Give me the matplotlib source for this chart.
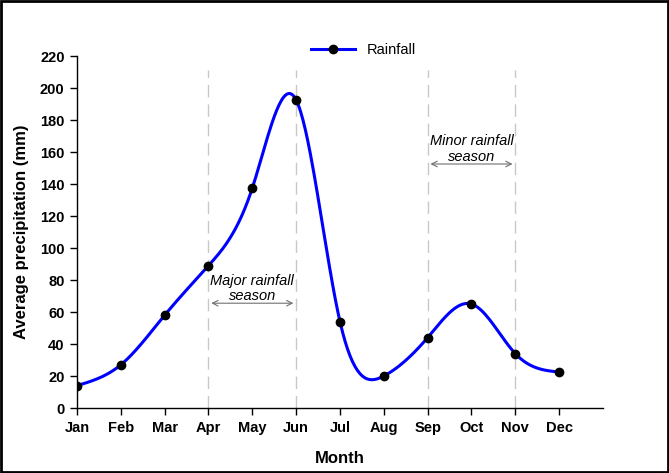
import numpy as np
import matplotlib
matplotlib.use("Agg")
import matplotlib.pyplot as plt
from matplotlib.patches import Rectangle

plt.rcParams['font.family'] = ['Liberation Sans', 'DejaVu Sans']

months = ["Jan", "Feb", "Mar", "Apr", "May", "Jun", "Jul", "Aug", "Sep", "Oct", "Nov", "Dec"]
rainfall = [14, 27, 58, 89, 137.5, 192.5, 54, 20, 44, 65, 34, 22.5]
season_lines = ["Apr", "Jun", "Sep", "Nov"]
yticks = list(range(0, 221, 20))


def natural_spline(x, y, xs):
    x = np.asarray(x, float); y = np.asarray(y, float)
    n = len(x)
    h = np.diff(x)
    A = np.zeros((n, n)); b = np.zeros(n)
    A[0, 0] = 1; A[-1, -1] = 1
    for i in range(1, n - 1):
        A[i, i - 1] = h[i - 1]
        A[i, i] = 2 * (h[i - 1] + h[i])
        A[i, i + 1] = h[i]
        b[i] = 6 * ((y[i + 1] - y[i]) / h[i] - (y[i] - y[i - 1]) / h[i - 1])
    M = np.linalg.solve(A, b)
    out = np.empty_like(xs)
    for k, t in enumerate(xs):
        i = min(max(np.searchsorted(x, t) - 1, 0), n - 2)
        a = x[i + 1] - t; c = t - x[i]
        out[k] = (M[i] * a**3 + M[i + 1] * c**3) / (6 * h[i]) + \
                 (y[i] / h[i] - M[i] * h[i] / 6) * a + (y[i + 1] / h[i] - M[i + 1] * h[i] / 6) * c
    return out


x = np.arange(len(months))
xs = np.linspace(0, len(months) - 1, 400)
ys = natural_spline(x, rainfall, xs)

fig = plt.figure(figsize=(6.69, 4.73), dpi=100)
ax = fig.add_axes([0.1151, 0.1374, 0.7862, 0.7442])

for m in season_lines:
    xi = months.index(m)
    ax.plot([xi, xi], [0, 211], color='#c8c8c8', lw=1.0, ls=(0, (9, 5)), zorder=1)

ax.plot(xs, ys, color='#0000ff', lw=2.2, zorder=3)
ax.plot(x, rainfall, 'o', color='black', ms=6, zorder=4)
ax.plot([], [], color='#0000ff', lw=2.2, marker='o', mfc='black', mec='black', ms=6, label='Rainfall')

ax.annotate('', xy=(months.index("Apr"), 65.5), xytext=(months.index("Jun"), 65.5),
            arrowprops=dict(arrowstyle='<->', color='#707070', lw=0.8))
ax.text(4, 65.5, 'Major rainfall\nseason', ha='center', va='bottom', fontsize=10.5,
        style='italic', linespacing=1.15)
ax.annotate('', xy=(months.index("Sep"), 152.5), xytext=(months.index("Nov"), 152.5),
            arrowprops=dict(arrowstyle='<->', color='#707070', lw=0.8))
ax.text(9, 152.5, 'Minor rainfall\nseason', ha='center', va='bottom', fontsize=10.5,
        style='italic', linespacing=1.15)

ax.set_xlim(0, 12)
ax.set_ylim(0, 220)
ax.set_xticks(x)
ax.set_xticklabels(months, fontsize=10.5, fontweight='bold')
ax.set_yticks(yticks)
ax.set_yticklabels([str(v) for v in yticks], fontsize=10.5, fontweight='bold')
ax.tick_params(direction='out', length=5, width=1, pad=4)
for s in ['top', 'right']:
    ax.spines[s].set_visible(False)
ax.spines['left'].set_linewidth(1)
ax.spines['bottom'].set_linewidth(1)
ax.set_xlabel('Month', fontsize=12, fontweight='bold', labelpad=12)
ax.set_ylabel('Average precipitation (mm)', fontsize=12, fontweight='bold', labelpad=8)

ax.legend(loc='center', bbox_to_anchor=(0.545, 1.018), frameon=False, fontsize=10.5,
          handlelength=3)

fig.add_artist(Rectangle((0.002, 0.003), 0.996, 0.994, transform=fig.transFigure,
                         fill=False, edgecolor='black', lw=2))

fig.savefig('out.png', dpi=100)
